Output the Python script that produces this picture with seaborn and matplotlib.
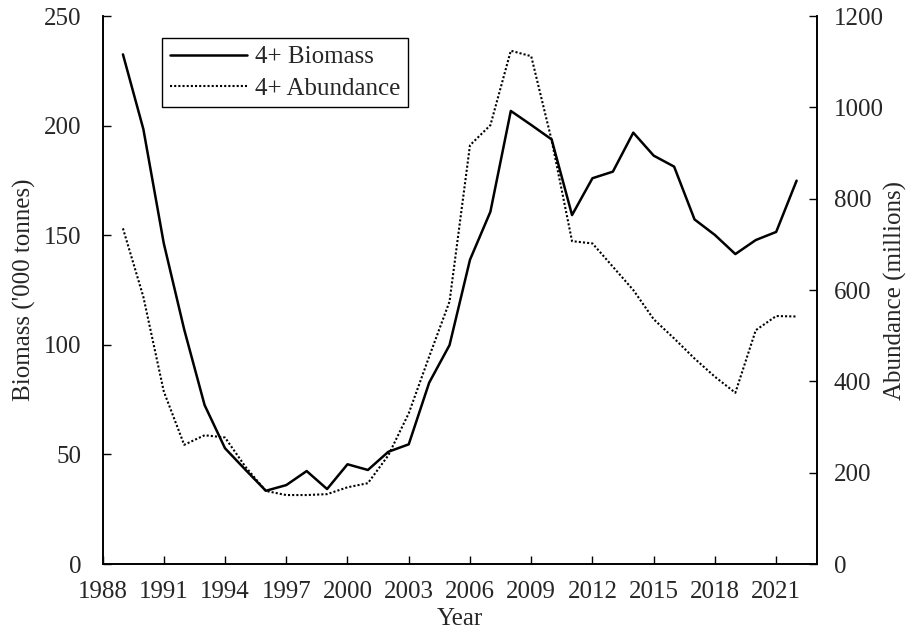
import numpy as np
import pandas as pd
import matplotlib
matplotlib.use('Agg')
import matplotlib.pyplot as plt
from matplotlib.lines import Line2D
import seaborn as sns

# 4+ biomass and abundance by year
years = list(range(1989, 2023))
biomass = [232.5, 198.4, 146.3, 107.0, 72.5, 52.8, 43.0, 33.4, 36.0, 42.4,
           34.2, 45.5, 42.9, 51.2, 54.6, 82.7, 99.9, 138.8, 160.7, 206.7,
           200.3, 193.7, 159.2, 176.0, 179.0, 196.8, 186.3, 181.3, 157.2, 150.1,
           141.4, 147.8, 151.5, 174.9]
abundance = [735, 585, 378, 261, 282, 277, 213, 160, 151, 151,
             153, 168, 177, 238, 330, 454, 575, 917, 961, 1124,
             1112, 928, 707, 702, 651, 600, 536, 494, 450, 410,
             375, 512, 543, 542]

df = pd.DataFrame({'Year': years, 'Biomass': biomass, 'Abundance': abundance})

sns.set_style('ticks')
plt.rcParams['font.family'] = ['Liberation Serif', 'DejaVu Serif']
fs = 18

fig = plt.figure(figsize=(9.09, 6.36), dpi=100)
ax = fig.add_axes([0.1128, 0.1132, 0.7860, 0.8616])
ax2 = ax.twinx()

sns.lineplot(data=df, x='Year', y='Biomass', ax=ax, color='black', linewidth=1.8)
sns.lineplot(data=df, x='Year', y='Abundance', ax=ax2, color='black',
             linewidth=1.5, linestyle=(0, (1, 1)))

ax.set_xlim(1988, 2023)
ax.set_ylim(0, 250)
ax2.set_ylim(0, 1200)
ax.set_xticks(range(1988, 2022, 3))
ax.set_yticks(range(0, 251, 50))
ax2.set_yticks(range(0, 1201, 200))

ax.set_xlabel('Year', fontsize=fs, labelpad=4)
ax.set_ylabel("Biomass ('000 tonnes)", fontsize=fs, labelpad=6)
ax2.set_ylabel('Abundance (millions)', fontsize=fs, labelpad=0)

for a in (ax, ax2):
    a.tick_params(direction='in', length=6, width=1, labelsize=fs, color='black')
    a.spines['top'].set_visible(False)
    for s in a.spines.values():
        s.set_linewidth(1.2)
        s.set_color('black')
ax.tick_params(axis='y', pad=15)
ax2.tick_params(axis='y', pad=12)
ax.tick_params(axis='x', pad=12)

handles = [Line2D([], [], color='black', linewidth=1.8),
           Line2D([], [], color='black', linewidth=1.5, linestyle=(0, (1, 1)))]
leg = ax.legend(handles, ['4+ Biomass', '4+ Abundance'], loc='upper left',
                bbox_to_anchor=(0.066, 0.982), fancybox=False, framealpha=1,
                edgecolor='black', fontsize=fs, handlelength=3.1,
                handletextpad=0.3, borderpad=0.3, labelspacing=0.35)
leg.get_frame().set_linewidth(1.0)

fig.savefig('out.png', dpi=100)
